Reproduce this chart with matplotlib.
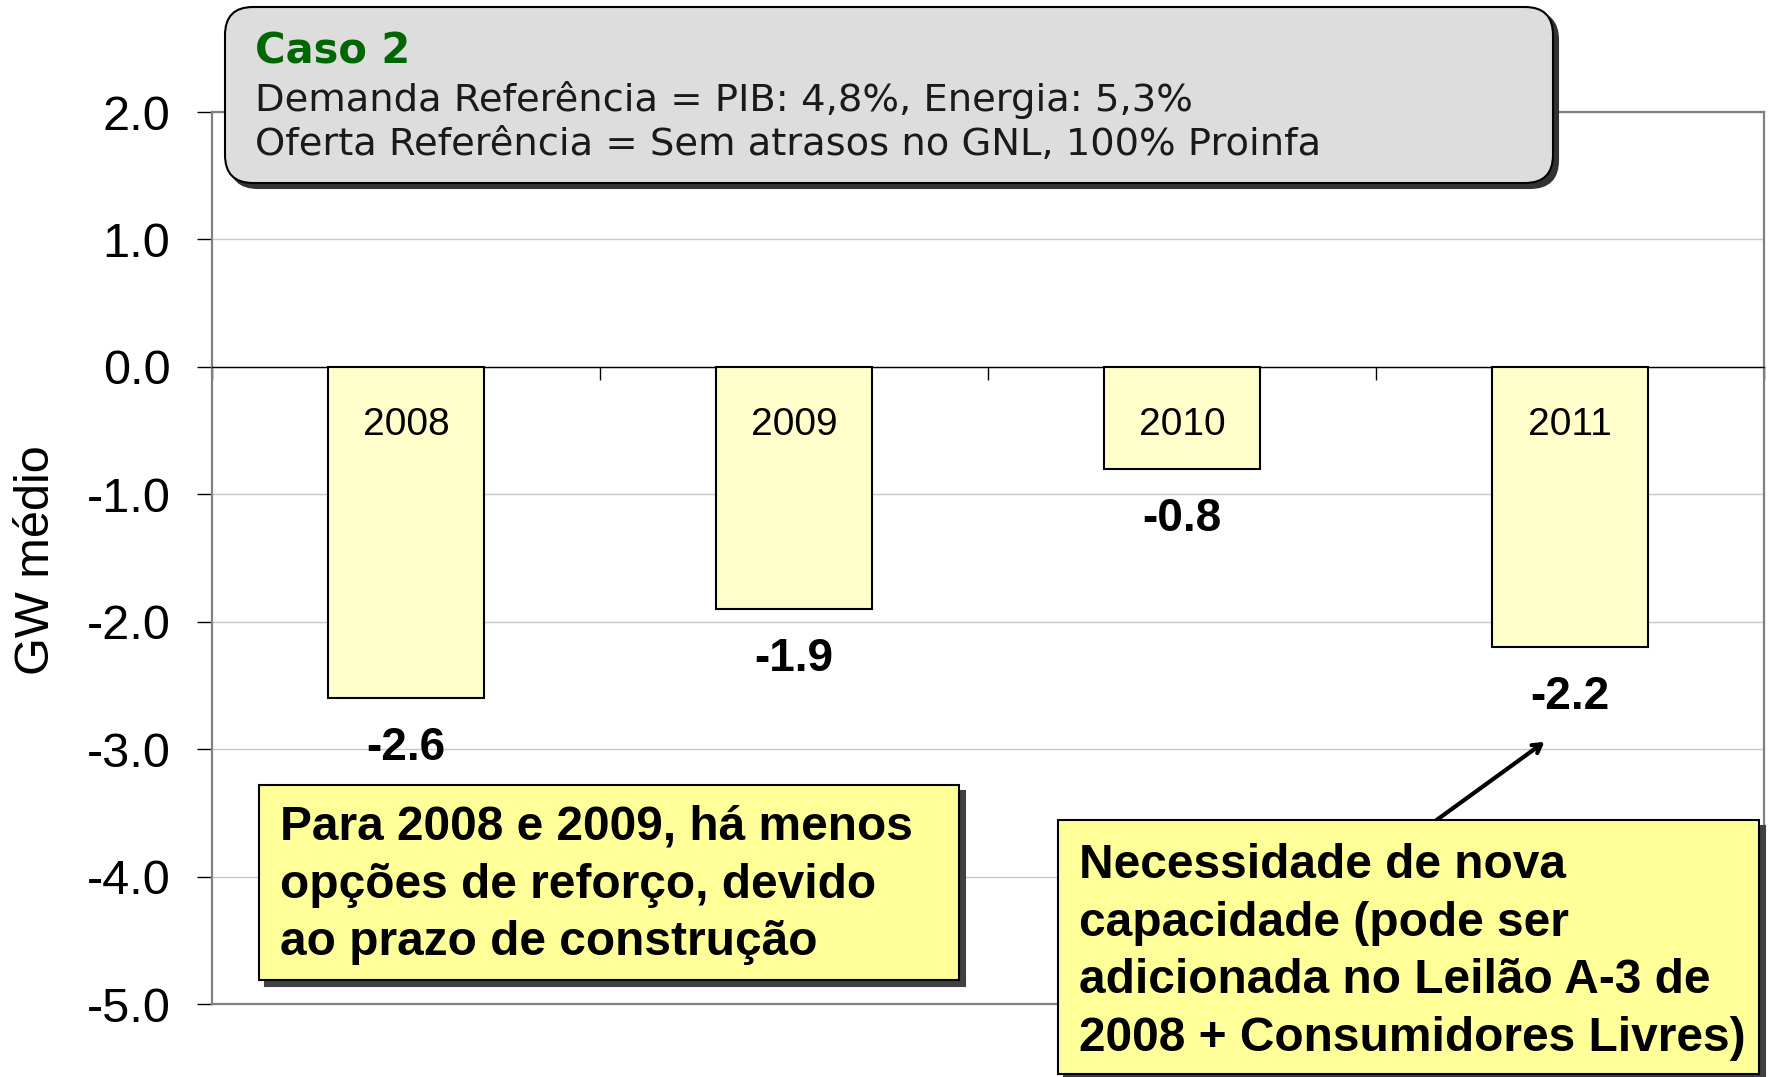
import matplotlib
matplotlib.use("Agg")
import numpy as np
from matplotlib import pyplot as plt
from matplotlib.patches import FancyBboxPatch

# Data
years = ["2008", "2009", "2010", "2011"]
values = [-2.6, -1.9, -0.8, -2.2]
yticks = [2.0, 1.0, 0.0, -1.0, -2.0, -3.0, -4.0, -5.0]

case_title = "Caso 2"
case_lines = ["Demanda Referência = PIB: 4,8%, Energia: 5,3%",
              "Oferta Referência = Sem atrasos no GNL, 100% Proinfa"]
note_left = "Para 2008 e 2009, há menos\nopções de reforço, devido\nao prazo de construção"
note_right = ("Necessidade de nova\ncapacidade (pode ser\n"
              "adicionada no Leilão A-3 de\n2008 + Consumidores Livres)")

W, H = 1791, 1077
plt.rcParams["font.family"] = ["Liberation Sans", "DejaVu Sans"]

fig = plt.figure(figsize=(W / 100, H / 100), dpi=100)
ax = fig.add_axes([212 / W, 1 - 1004 / H, (1764 - 212) / W, (1004 - 112) / H])

def px(x, y):
    # figure pixel (from top-left) -> inches
    return x / 100, (H - y) / 100

# Bars
x = np.arange(len(years)) + 0.5
ax.bar(x, values, width=0.4, color="#FFFFCC", edgecolor="black", linewidth=1.5, zorder=3)

for xi, yr, v in zip(x, years, values):
    ax.text(xi, -0.46, yr, ha="center", va="center", fontsize=28, zorder=4)
    ax.annotate("%.1f" % v, (xi, v), xytext=(0, -36), textcoords="offset points",
                ha="center", va="center", fontsize=33, fontweight="bold", zorder=4)

ax.set_xlim(0, 4)
ax.set_ylim(-5, 2)
ax.set_yticks(yticks)
ax.set_yticklabels(["%.1f" % t for t in yticks], fontsize=35)
ax.tick_params(axis="y", direction="out", length=11, width=1, pad=19, color="black")

# category axis at zero
ax.spines["bottom"].set_position(("data", 0))
ax.spines["bottom"].set_color("black")
ax.spines["bottom"].set_linewidth(1)
ax.set_xticks([0, 1, 2, 3, 4])
ax.set_xticklabels([])
ax.tick_params(axis="x", direction="out", length=9, width=1, color="black")

for s in ["top", "right", "left"]:
    ax.spines[s].set_color("#808080")
    ax.spines[s].set_linewidth(1.6)
ax.plot([0, 1], [0, 0], transform=ax.transAxes, color="#808080", lw=1.6, clip_on=False)

ax.grid(axis="y", color="#C8C8C8", lw=1)
ax.set_axisbelow(True)

fig.text(37 / W, 1 - 560 / H, "GW médio", rotation=90, ha="center", va="center", fontsize=35)

# Top rounded info box
bx0, by0, bx1, by1 = 225, 7, 1553, 183
for off, fc, ec in [(5, "#333333", "#333333"), (0, "#DDDDDD", "black")]:
    x0, y0 = px(bx0 + off, by1 + off)
    box = FancyBboxPatch((x0, y0), (bx1 - bx0) / 100, (by1 - by0) / 100,
                         boxstyle="round,pad=0,rounding_size=0.28",
                         transform=fig.dpi_scale_trans, facecolor=fc, edgecolor=ec,
                         linewidth=1.5, zorder=10)
    fig.add_artist(box)

fig.text(255 / W, 1 - 52 / H, case_title, color="#006600", fontsize=30, fontweight="bold",
         family="DejaVu Sans", ha="left", va="center", zorder=11)
for i, line in enumerate(case_lines):
    fig.text(255 / W, 1 - (100 + 45 * i) / H, line, color="#1a1a1a", fontsize=27.7,
             family="DejaVu Sans", ha="left", va="center", zorder=11)

# Yellow note boxes
def note(x0p, y0p, x1p, y1p, text, tx, ty):
    for off, fc, ec in [(6, "#404040", "#404040"), (0, "#FFFF99", "black")]:
        xa, ya = px(x0p + off, y1p + off)
        r = FancyBboxPatch((xa, ya), (x1p - x0p) / 100, (y1p - y0p) / 100,
                           boxstyle="square,pad=0", transform=fig.dpi_scale_trans,
                           facecolor=fc, edgecolor=ec, linewidth=1.5, zorder=10)
        fig.add_artist(r)
    fig.text(tx / W, 1 - ty / H, text, fontsize=34.5, fontweight="bold", ha="left",
             va="center", linespacing=1.36, zorder=11)

note(259, 785, 959, 980, note_left, 280, 885)
note(1058, 820, 1759, 1074, note_right, 1079, 952)

ax.annotate("", xy=(3.44, -2.93), xytext=(3.15, -3.57),
            arrowprops=dict(arrowstyle="->,head_length=0.6,head_width=0.35", lw=3, color="black"),
            zorder=12, annotation_clip=False)

fig.savefig("out.png", dpi=100)
